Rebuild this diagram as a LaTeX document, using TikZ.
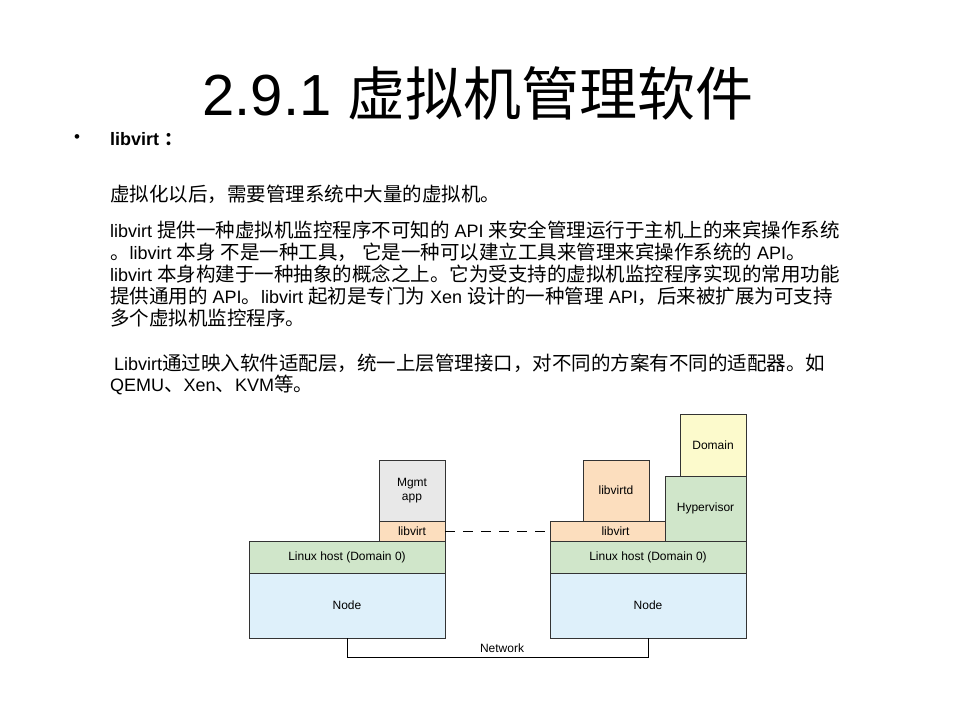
\documentclass[tikz,border=0pt]{standalone}
\usepackage{fontspec}
\setmainfont{Liberation Sans}
\newfontfamily\cjk{Noto Sans CJK SC}
\newfontfamily\lat{Liberation Sans}
\newcommand\la[1]{{\lat\fontsize{18}{20}\selectfont #1}}
\begin{document}
\begin{tikzpicture}[x=1pt,y=-1pt,
  box/.style={draw=black!80,line width=0.8pt,font=\fontsize{12}{14}\selectfont,align=center},
  txt/.style={anchor=west,inner sep=0,font=\cjk\fontsize{19.5}{20}\selectfont}]
\useasboundingbox (0,0) rectangle (960,720);
\node[font=\cjk\fontsize{58}{60}\selectfont] (title) at (478,93) {{\lat 2.9.1 }虚拟机管理软件};
\node[anchor=center,font=\fontsize{17}{20}\selectfont] (bul) at (77,139) {•};
\node[txt,font=\bfseries\fontsize{18}{20}\selectfont] (h) at (110,139) {libvirt {\cjk ：}};
\node[txt] (l1) at (110,194) {虚拟化以后，需要管理系统中大量的虚拟机。};
\node[txt] (l2) at (110,230) {\la{libvirt }提供一种虚拟机监控程序不可知的\la{ API }来安全管理运行于主机上的来宾操作系统};
\node[txt] (l3) at (110,252) {。\la{libvirt }本身\la{ }不是一种工具，\la{ }它是一种可以建立工具来管理来宾操作系统的\la{ API}。};
\node[txt] (l4) at (110,274) {\la{libvirt }本身构建于一种抽象的概念之上。它为受支持的虚拟机监控程序实现的常用功能};
\node[txt] (l5) at (110,296) {提供通用的\la{ API}。\la{libvirt }起初是专门为\la{ Xen }设计的一种管理\la{ API}，后来被扩展为可支持};
\node[txt] (l6) at (110,318) {多个虚拟机监控程序。};
\node[txt] (l7) at (114,363) {\la{Libvirt}通过映入软件适配层，统一上层管理接口，对不同的方案有不同的适配器。如};
\node[txt] (l8) at (110,385) {\la{QEMU}、\la{Xen}、\la{KVM}等。};
% left stack
\node[box,fill={rgb,255:red,222;green,240;blue,250},minimum width=196,minimum height=65] (n1) at (347,605.5) {Node};
\node[box,fill={rgb,255:red,208;green,230;blue,202},minimum width=196,minimum height=32] (h1) at (347,557) {Linux host (Domain 0)};
\node[box,fill={rgb,255:red,252;green,222;blue,190},minimum width=66,minimum height=20] (lv1) at (412,531) {libvirt};
\node[box,fill={rgb,255:red,232;green,232;blue,232},minimum width=66,minimum height=61] (mg) at (412,490.5) {Mgmt\\app};
% right stack
\node[box,fill={rgb,255:red,222;green,240;blue,250},minimum width=196,minimum height=65] (n2) at (648,605.5) {Node};
\node[box,fill={rgb,255:red,208;green,230;blue,202},minimum width=196,minimum height=32] (h2) at (648,557) {Linux host (Domain 0)};
\node[box,fill={rgb,255:red,252;green,222;blue,190},minimum width=131,minimum height=20] (lv2) at (615.5,531) {libvirt};
\node[box,fill={rgb,255:red,252;green,222;blue,190},minimum width=66,minimum height=61] (ld) at (616,490.5) {libvirtd};
\node[box,fill={rgb,255:red,208;green,230;blue,202},minimum width=81,minimum height=65] (hv) at (705.5,508.5) {Hypervisor};
\node[box,fill={rgb,255:red,252;green,250;blue,204},minimum width=66,minimum height=62] (dom) at (713,445) {Domain};
\draw[line width=0.8pt,dash pattern=on 10pt off 8pt] (lv1.east) -- (lv2.west);
\coordinate (c1) at (347,657);
\coordinate (c2) at (648,657);
\draw[line width=0.8pt] (n1.south) -- (c1) -- (c2) -- (n2.south);
\node[font=\fontsize{12}{14}\selectfont] (net) at (502,648) {Network};
\end{tikzpicture}
\end{document}
